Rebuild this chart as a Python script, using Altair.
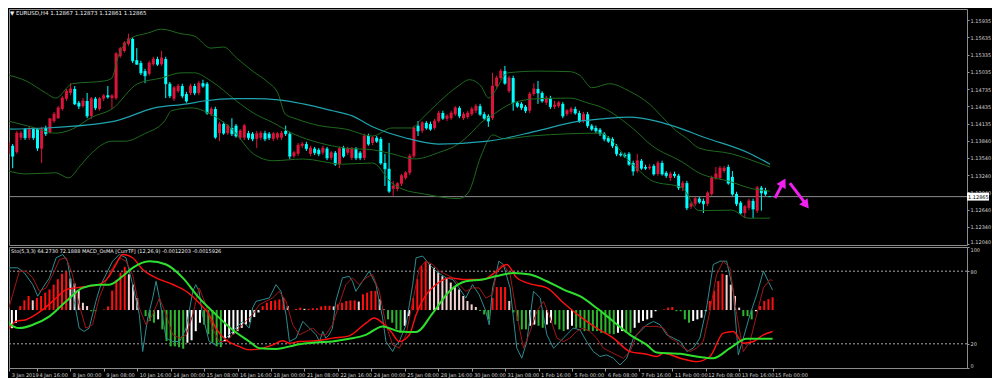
import altair as alt
import pandas as pd

# ---------------- text ----------------
TOP_TITLE = "▼ EURUSD,H4  1.12867 1.12873 1.12861 1.12865"
SUB_TITLE = "Sto(5,3,3) 64.2730 72.1888   MACD_OsMA [CurrTF] (12,26,9) -0.0012203 -0.0015926"
CURRENT_PRICE = 1.12865
PRICE_TAG = "1.12865"
PRICE_TICKS = [1.15935, 1.15635, 1.15335, 1.15035, 1.14735, 1.14435, 1.14135,
               1.13840, 1.13540, 1.13240, 1.12940, 1.12640, 1.12340, 1.12040]
STO_TICKS = [0, 20, 80, 100]
STO_LEVELS = [80, 20]
FIRST_LABEL = "3 Jan 2019"
TIME_LABELS = ["4 Jan 16:00", "8 Jan 00:00", "9 Jan 08:00", "10 Jan 16:00", "14 Jan 00:00",
               "15 Jan 08:00", "16 Jan 16:00", "18 Jan 00:00", "21 Jan 08:00", "22 Jan 16:00",
               "24 Jan 00:00", "25 Jan 08:00", "28 Jan 16:00", "30 Jan 00:00", "31 Jan 08:00",
               "1 Feb 16:00", "5 Feb 00:00", "6 Feb 08:00", "7 Feb 16:00", "11 Feb 00:00",
               "12 Feb 08:00", "13 Feb 16:00", "15 Feb 00:00"]

# ---------------- H4 candles (bar 0 = 3 Jan 08:00) ----------------
OPEN = [
1.1361,1.1375,1.1364,1.1389,1.1404,1.1389,1.1404,1.1404,1.1370,1.1406,
1.1399,1.1418,1.1423,1.1439,1.1457,1.1467,1.1474,1.1450,1.1444,1.1453,
1.1427,1.1457,1.1439,1.1457,1.1463,1.1458,1.1458,1.1531,1.1540,1.1552,
1.1561,1.1524,1.1519,1.1505,1.1500,1.1517,1.1526,1.1517,1.1526,1.1483,
1.1457,1.1470,1.1479,1.1465,1.1467,1.1479,1.1467,1.1484,1.1483,1.1430,
1.1439,1.1397,1.1413,1.1397,1.1406,1.1410,1.1389,1.1389,1.1397,1.1396,
1.1387,1.1389,1.1397,1.1396,1.1387,1.1389,1.1389,1.1401,1.1396,1.1357,
1.1361,1.1375,1.1378,1.1361,1.1370,1.1368,1.1363,1.1370,1.1354,1.1363,
1.1343,1.1371,1.1363,1.1354,1.1370,1.1363,1.1354,1.1392,1.1380,1.1389,
1.1387,1.1345,1.1335,1.1300,1.1300,1.1309,1.1319,1.1328,1.1357,1.1410,
1.1401,1.1415,1.1413,1.1406,1.1418,1.1432,1.1422,1.1423,1.1430,1.1441,
1.1423,1.1425,1.1430,1.1436,1.1444,1.1430,1.1427,1.1423,1.1479,1.1493,
1.1505,1.1470,1.1493,1.1450,1.1448,1.1443,1.1436,1.1465,1.1474,1.1467,
1.1450,1.1458,1.1443,1.1444,1.1448,1.1430,1.1434,1.1439,1.1432,1.1418,
1.1430,1.1410,1.1406,1.1403,1.1396,1.1389,1.1387,1.1375,1.1361,1.1359,
1.1361,1.1345,1.1331,1.1349,1.1338,1.1336,1.1340,1.1326,1.1345,1.1328,
1.1319,1.1326,1.1323,1.1302,1.1310,1.1269,1.1274,1.1283,1.1279,1.1274,
1.1291,1.1319,1.1319,1.1331,1.1338,1.1321,1.1291,1.1276,1.1258,1.1267,
1.1279,1.1262,1.1302,1.1298,1.12867]
HIGH = [
1.1383,1.1378,1.1401,1.1401,1.1406,1.1408,1.1406,1.1406,1.1408,1.1410,
1.1423,1.1434,1.1444,1.1462,1.1474,1.1484,1.1479,1.1453,1.1458,1.1467,
1.1460,1.1460,1.1460,1.1465,1.1479,1.1465,1.1538,1.1547,1.1557,1.1570,
1.1564,1.1545,1.1523,1.1509,1.1523,1.1530,1.1530,1.1540,1.1530,1.1486,
1.1479,1.1483,1.1483,1.1469,1.1483,1.1483,1.1488,1.1490,1.1486,1.1443,
1.1443,1.1417,1.1417,1.1413,1.1423,1.1413,1.1404,1.1413,1.1401,1.1399,
1.1401,1.1401,1.1401,1.1399,1.1399,1.1399,1.1401,1.1410,1.1399,1.1366,
1.1380,1.1382,1.1382,1.1375,1.1373,1.1371,1.1375,1.1373,1.1366,1.1366,
1.1373,1.1375,1.1373,1.1373,1.1373,1.1366,1.1396,1.1396,1.1392,1.1392,
1.1390,1.1361,1.1380,1.1314,1.1312,1.1326,1.1331,1.1361,1.1410,1.1418,
1.1418,1.1418,1.1417,1.1422,1.1436,1.1436,1.1430,1.1436,1.1444,1.1444,
1.1434,1.1436,1.1443,1.1448,1.1448,1.1434,1.1430,1.1502,1.1497,1.1509,
1.1514,1.1497,1.1497,1.1453,1.1451,1.1446,1.1469,1.1484,1.1488,1.1470,
1.1462,1.1462,1.1453,1.1453,1.1451,1.1439,1.1443,1.1443,1.1436,1.1434,
1.1434,1.1413,1.1410,1.1406,1.1399,1.1392,1.1390,1.1378,1.1364,1.1363,
1.1364,1.1349,1.1361,1.1352,1.1342,1.1343,1.1343,1.1349,1.1349,1.1331,
1.1330,1.1330,1.1326,1.1314,1.1314,1.1277,1.1286,1.1286,1.1283,1.1296,
1.1323,1.1338,1.1340,1.1340,1.1342,1.1331,1.1295,1.1279,1.1272,1.1283,
1.1283,1.1305,1.1305,1.1302,1.12873]
LOW = [
1.1356,1.1336,1.1361,1.1385,1.1385,1.1385,1.1385,1.1366,1.1345,1.1392,
1.1396,1.1415,1.1422,1.1436,1.1453,1.1463,1.1446,1.1439,1.1441,1.1423,
1.1422,1.1437,1.1436,1.1453,1.1457,1.1439,1.1455,1.1528,1.1537,1.1549,
1.1519,1.1516,1.1498,1.1484,1.1497,1.1514,1.1514,1.1514,1.1458,1.1458,
1.1453,1.1467,1.1458,1.1450,1.1463,1.1463,1.1463,1.1476,1.1429,1.1427,
1.1387,1.1383,1.1394,1.1394,1.1392,1.1389,1.1385,1.1385,1.1385,1.1383,
1.1371,1.1385,1.1383,1.1385,1.1383,1.1385,1.1385,1.1392,1.1352,1.1354,
1.1357,1.1371,1.1366,1.1357,1.1359,1.1357,1.1359,1.1350,1.1350,1.1340,
1.1336,1.1354,1.1359,1.1350,1.1350,1.1350,1.1350,1.1375,1.1376,1.1380,
1.1342,1.1305,1.1293,1.1288,1.1296,1.1305,1.1316,1.1324,1.1354,1.1392,
1.1397,1.1403,1.1401,1.1403,1.1415,1.1420,1.1418,1.1420,1.1427,1.1423,
1.1420,1.1422,1.1427,1.1432,1.1427,1.1420,1.1408,1.1420,1.1476,1.1490,
1.1481,1.1467,1.1436,1.1441,1.1437,1.1432,1.1432,1.1462,1.1448,1.1450,
1.1446,1.1439,1.1439,1.1441,1.1423,1.1427,1.1430,1.1429,1.1415,1.1415,
1.1406,1.1401,1.1397,1.1392,1.1383,1.1380,1.1371,1.1357,1.1356,1.1354,
1.1340,1.1323,1.1328,1.1333,1.1333,1.1333,1.1323,1.1323,1.1323,1.1319,
1.1314,1.1319,1.1298,1.1296,1.1263,1.1265,1.1270,1.1274,1.1258,1.1270,
1.1288,1.1316,1.1316,1.1328,1.1307,1.1288,1.1270,1.1255,1.1249,1.1263,
1.1249,1.1258,1.1262,1.1288,1.12861]
CLOSE = [
1.1380,1.1357,1.1397,1.1397,1.1389,1.1404,1.1389,1.1371,1.1404,1.1396,
1.1422,1.1430,1.1441,1.1458,1.1470,1.1474,1.1448,1.1444,1.1453,1.1427,
1.1457,1.1441,1.1457,1.1462,1.1460,1.1462,1.1535,1.1544,1.1554,1.1561,
1.1523,1.1517,1.1502,1.1497,1.1519,1.1526,1.1517,1.1528,1.1483,1.1462,
1.1476,1.1479,1.1462,1.1453,1.1479,1.1467,1.1484,1.1479,1.1432,1.1439,
1.1390,1.1413,1.1397,1.1410,1.1396,1.1392,1.1401,1.1410,1.1389,1.1387,
1.1396,1.1397,1.1387,1.1389,1.1396,1.1396,1.1397,1.1396,1.1357,1.1363,
1.1376,1.1378,1.1370,1.1371,1.1363,1.1361,1.1371,1.1354,1.1363,1.1343,
1.1370,1.1357,1.1370,1.1370,1.1354,1.1354,1.1392,1.1378,1.1389,1.1383,
1.1345,1.1335,1.1296,1.1305,1.1309,1.1323,1.1328,1.1357,1.1406,1.1401,
1.1415,1.1406,1.1404,1.1418,1.1432,1.1423,1.1427,1.1432,1.1441,1.1427,
1.1430,1.1432,1.1439,1.1444,1.1430,1.1423,1.1418,1.1479,1.1493,1.1505,
1.1484,1.1493,1.1450,1.1444,1.1441,1.1436,1.1465,1.1474,1.1467,1.1453,
1.1458,1.1443,1.1446,1.1450,1.1427,1.1436,1.1439,1.1432,1.1418,1.1430,
1.1410,1.1404,1.1401,1.1396,1.1387,1.1383,1.1375,1.1361,1.1359,1.1357,
1.1343,1.1331,1.1349,1.1336,1.1336,1.1338,1.1326,1.1345,1.1326,1.1323,
1.1326,1.1323,1.1302,1.1310,1.1267,1.1274,1.1283,1.1277,1.1274,1.1293,
1.1319,1.1326,1.1336,1.1336,1.1310,1.1291,1.1274,1.1258,1.1269,1.1279,
1.1265,1.1302,1.1293,1.1291,1.12865]

# ---------------- price-window indicators: (bar, price) ----------------
BB_UPPER = [(0,1.1498),(4.2,1.1488),(9.0,1.1467),(11.4,1.1458),(15.4,1.1483),(23.3,1.1488),
            (25.0,1.1493),(26.4,1.1528),(29.8,1.1563),(33.6,1.1571),(37.0,1.1578),(41.7,1.1570),
            (44.9,1.1566),(48.9,1.1545),(52.0,1.1547),(55.1,1.1528),(59.2,1.1504),(62.3,1.1488),
            (65.2,1.1465),(66.9,1.1430),(69.5,1.1422),(75.2,1.1410),(81.5,1.1404),(88.0,1.1392),
            (92.7,1.1406),(97.5,1.1406),(99.9,1.1422),(103.9,1.1450),(108.7,1.1479),(111.4,1.1490),
            (114.2,1.1479),(116.1,1.1458),(117.3,1.1467),(120.7,1.1502),(127.9,1.1505),(135.8,1.1504),
            (138.2,1.1497),(141.0,1.1476),(145.3,1.1483),(150.1,1.1470),(154.9,1.1448),(159.0,1.1418),
            (161.4,1.1401),(163.8,1.1389),(166.9,1.1371),(174.8,1.1361),(178.8,1.1352),(184.1,1.1338)]
BB_MID = [(0,1.1418),(5.4,1.1408),(11.4,1.1397),(15.4,1.1404),(20.2,1.1425),(25.0,1.1439),
          (31.2,1.1483),(37.0,1.1493),(41.7,1.1502),(44.9,1.1502),(48.9,1.1488),(55.1,1.1453),
          (59.2,1.1432),(64.0,1.1415),(68.8,1.1396),(75.2,1.1380),(81.5,1.1371),(88.0,1.1368),
          (92.7,1.1361),(98.2,1.1352),(103.9,1.1363),(108.7,1.1378),(111.8,1.1397),(114.2,1.1415),
          (117.3,1.1430),(121.4,1.1448),(127.9,1.1457),(135.8,1.1458),(139.8,1.1450),(143.7,1.1441),
          (150.8,1.1406),(155.6,1.1375),(162.8,1.1347),(166.9,1.1328),(174.8,1.1312),(178.8,1.1302),
          (184.1,1.1296)]
BB_LOWER = [(0,1.1331),(4.2,1.1326),(11.4,1.1328),(14.5,1.1319),(17.3,1.1340),(20.2,1.1363),
            (25.0,1.1383),(28.1,1.1383),(32.9,1.1396),(37.7,1.1418),(39.4,1.1436),(44.1,1.1441),
            (48.9,1.1430),(54.4,1.1401),(59.2,1.1361),(64.0,1.1349),(71.2,1.1352),(80.7,1.1343),
            (88.0,1.1345),(92.7,1.1310),(95.1,1.1300),(100.6,1.1291),(108.7,1.1283),(111.1,1.1293),
            (114.2,1.1357),(117.1,1.1394),(119.7,1.1387),(126.2,1.1392),(135.8,1.1396),(142.9,1.1397),
            (150.8,1.1343),(155.6,1.1314),(162.8,1.1302),(166.9,1.1262),(174.8,1.1263),(178.8,1.1249),
            (184.1,1.1249)]
MA_LINE = [(0,1.1404),(9.0,1.1406),(25.7,1.1418),(35.3,1.1441),(43.2,1.1448),(47.2,1.1453),
           (55.1,1.1457),(59.2,1.1457),(65.2,1.1455),(71.2,1.1448),(78.3,1.1436),(83.1,1.1427),
           (88.0,1.1408),(95.8,1.1389),(103.9,1.1378),(115.9,1.1383),(127.9,1.1401),(137.4,1.1417),
           (143.7,1.1422),(150.1,1.1425),(156.6,1.1418),(160.4,1.1410),(168.5,1.1389),(178.8,1.1363),
           (184.1,1.1343)]

# hand-drawn forecast arrows: start bar, start price, end bar, end price, head angle
ARROW_X0 = [185.3, 188.9]
ARROW_P0 = [1.1284, 1.1310]
ARROW_X1 = [187.2, 192.5]
ARROW_P1 = [1.1310, 1.1276]
HEAD_X = [187.3, 192.8]
HEAD_P = [1.1311, 1.1272]
HEAD_ANGLE = [29, 143]

# ---------------- sub-window: Stochastic(5,3,3) + MACD OsMA ----------------
STO_MAIN = [(0,46.8),(1.4,82.8),(3.4,82.8),(5,78.6),(7,68.9),(8.2,59.3),(9.4,66.2),(11,74.5),(12.6,91.1),
            (14.2,93.8),(15.3,88.3),(16.5,63.4),(18.1,33),(19.3,30.2),(20.5,33),(22.1,55.1),(23.3,68.9),
            (24.5,77.2),(26.1,88.3),(27.7,93.8),(29.3,91.1),(30.1,80),(30.9,68.9),(32.5,44.1),(33.3,13.6),
            (34.5,41.3),(35.7,57.9),(36.5,71.7),(37.3,57.9),(38.1,41.3),(38.9,24.7),(40.5,21.9),(42.1,21.9),
            (43.7,33),(45.3,63.4),(46,68.9),(46.8,63.4),(47.6,44.1),(49.2,21.9),(50.8,19.1),(52.4,21.9),
            (54,27.4),(55.6,33),(57.2,38.5),(58.8,33),(59.6,49.6),(60.4,55.1),(62,56.5),(63.6,57.9),
            (65.2,68.9),(66.4,63.4),(67.6,44.1),(68.4,21.9),(70,24.7),(71.6,38.5),(73.2,33),(74.8,27.4),
            (75.6,21.9),(76.4,30.2),(77.1,24.7),(77.9,27.4),(78.7,33),(79.5,55.1),(81.1,74.5),(82.7,75.8),
            (83.5,71.7),(84.3,63.4),(85.9,71.7),(87.5,80),(89.1,68.9),(90.7,41.3),(91.5,21.9),(93.1,13.6),
            (93.9,19.1),(94.7,21.9),(96.3,35.7),(97.9,68.9),(98.7,91.1),(100.3,92.5),(101.9,85.5),(103.5,80),
            (105.9,74.5),(107.5,73.1),(109,66.2),(110.6,57.9),(112.2,68.9),(113.8,60.6),(115.4,46.8),
            (116.2,35.7),(117,66.2),(117.8,77),(118.5,88.3),(119.6,85.5),(121.2,66.2),(122.8,16.4),(124,8.1),
            (125.2,21.9),(126.8,63.4),(128.4,57.9),(130,27.4),(131.6,16.4),(133.2,21.9),(134.7,27.4),
            (136.3,33),(137.9,31.6),(139.5,21.9),(141.1,13.6),(142.7,9.5),(144.3,10.8),(145.9,8.1),
            (147.5,2.5),(149.1,8.1),(150.7,24.7),(152.3,30.2),(153.9,35.7),(155.5,38.5),(157.1,35.7),
            (158.7,27.4),(160.3,24.7),(161.9,21.9),(163.5,13.6),(165,16.4),(166.6,24.7),(168.2,49.6),
            (169.8,85.5),(171.4,88.3),(173,88.3),(174.6,63.4),(175.8,10.8),(177,24.7),(178.6,44.1),
            (180.2,60.6),(181.8,80),(184,64.3)]
STO_SIGNAL = [(0,49.6),(0.6,41.3),(2.2,60.6),(3.8,80),(5.4,80),(7,74.5),(8.6,63.4),(10.2,66.2),(11.8,77.2),
              (13.4,89.7),(15,91.1),(16.5,77.2),(18.1,52.3),(19.7,33),(21.3,35.7),(22.9,57.9),(24.5,71.7),
              (26.1,82.8),(27.7,91.1),(29.3,88.3),(30.9,77.2),(32.5,49.6),(34.1,35.7),(35.7,44.1),(37.3,57.9),
              (38.9,44.1),(40.5,27.4),(42.1,24.7),(43.7,27.4),(45.3,44.1),(46.8,66.2),(48.4,52.3),(50,33),
              (51.6,21.9),(53.2,21.9),(54.8,27.4),(56.4,33),(58,38.5),(59.6,44.1),(61.2,52.3),(62.8,55.1),
              (64.4,57.9),(66,63.4),(67.6,55.1),(69.2,35.7),(70.8,27.4),(72.4,30.2),(74,33),(75.6,27.4),
              (77.1,27.4),(78.7,35.7),(80.3,52.3),(81.9,68.9),(83.5,74.5),(85.1,68.9),(86.7,74.5),(88.3,77.2),
              (89.9,63.4),(91.5,35.7),(93.1,19.1),(94.7,16.4),(96.3,27.4),(97.9,55.1),(99.5,82.8),(101.1,88.3),
              (102.7,85.5),(104.3,80),(105.9,77.2),(107.5,74.5),(109,68.9),(110.6,63.4),(112.2,66.2),
              (113.8,66.2),(115.4,57.9),(117,60.6),(117.6,72),(118.4,82.8),(119.6,85.5),(121.2,77.2),
              (122.8,44.1),(124.4,16.4),(126,30.2),(127.6,46.8),(129.2,55.1),(130.8,41.3),(132.4,24.7),
              (134,21.9),(135.5,24.7),(137.1,30.2),(138.7,33),(140.3,30.2),(141.9,24.7),(143.5,16.4),
              (145.1,13.6),(146.7,10.8),(148.3,8.1),(149.9,13.6),(151.5,27.4),(153.1,34.4),(154.7,34.4),
              (156.3,34.4),(157.9,33),(159.5,24.7),(161.1,21.9),(162.7,16.4),(164.3,13.6),(165.8,16.4),
              (167.4,21.9),(169,46.8),(170.6,77.2),(172.2,88.3),(173.8,82.8),(175.4,44.1),(177,13.6),
              (178.6,21.9),(180.2,44.1),(181.8,66.2),(183.4,73.1),(184,72.2)]
MACD_LINE = [(0,28.8),(0.6,30.2),(3,38.5),(5.4,39.9),(7,42.7),(9.4,48.2),(12.6,57.9),(15,64.8),(17.3,66.2),
             (20.5,67.6),(22.9,69),(25.3,75.9),(26.9,85.5),(28.5,93.8),(30.9,91.1),(33.3,81.4),(36.5,74.5),
             (40.5,69),(43.7,63.4),(46.8,53.7),(49.2,44.1),(50.8,33),(53.2,23.3),(56.4,17.8),(58.8,15),
             (61.2,15.8),(64.4,19.1),(66.8,22.5),(68.4,20.5),(70.8,21.9),(74.8,22.5),(78.7,24.7),(82.7,26.6),
             (86.7,37.1),(88.7,41.3),(90.7,37.1),(92.7,30.2),(94.7,21.9),(97.1,27.4),(98.7,44.1),(101.1,60.6),
             (103.5,69),(106.7,74.5),(110.6,73.1),(114.6,73.1),(118,80),(120.4,85.5),(122.8,74.5),(126,69.5),
             (130,66.2),(134,53.7),(137.9,42.7),(141.9,33),(145.9,24.7),(149.9,13.6),(153.9,11.4),(156.3,9.5),
             (157.9,12.2),(161.9,8.1),(165.8,5.3),(169,9.5),(172.2,28.8),(174.6,30.2),(177,20.5),(179.4,21.9),
             (181.8,27.4),(184,30.2)]
MACD_SIGNAL = [(0,46.8),(1.4,37.1),(3.8,33),(7,35.7),(11,42.7),(15,55.1),(18.9,66.2),(22.9,68.9),(25.3,68.9),
               (28.5,75.8),(30.9,82.8),(34.9,88.3),(38.9,85.5),(42.9,74.5),(46.8,57.9),(50.8,44.1),(54.8,31.6),
               (58.8,21.9),(61.2,16.4),(65.2,15.8),(70.8,19.7),(74.8,21.1),(78.7,21.9),(82.7,24.1),(86.7,27.4),
               (90.7,34.4),(94.7,30.2),(98.7,29.7),(102.7,45.4),(106.7,63.4),(110.6,71.7),(114.6,73.1),
               (118,76),(122,78.6),(126,77.2),(130,71.7),(134,64.8),(137.9,59.3),(141.9,49.6),(145.9,38.5),
               (149.9,27.4),(153.9,19.1),(156.3,12.8),(161.9,11.7),(165.8,9.5),(169.8,8.1),(173.8,16.4),
               (177.8,24.1),(184,24.1)]
# OsMA histogram, one value per bar (sub-window units, zero line at 47.9 of the 0-100 axis)
OSMA = [
-32,-27,-15,-10.5,3.3,8,11.6,8,10,11.6,
14.4,17,21,25.5,30,32,26,22,16,6,
3.3,-1,-1,0,0.5,3,16,25,31,35.7,
29.6,21,10,0,-5,-9,-10.5,-7.7,-16,-25.7,
-30,-30,-30.7,-32,-27,-25,-17.5,-10.5,-12,-20,
-27,-30,-30.7,-25.7,-23,-20,-17.4,-14.7,-12,-10,
-5.8,-2,3.3,6,7.5,8,8.8,10,3.3,0,
1,2,1,1,1.5,1.5,3,3.5,3.5,3,
4.7,6,7.5,8,8,7,13,14.4,15.8,15.8,
8.8,0.5,-7.7,-10.5,-16,-18.8,-13,-5,10,25.5,
36.5,40,38,35,31,28,26,22.7,20,17,
11.6,7.5,4.7,2.5,-0.8,-3.6,-7.7,10,19,19,
19,7.5,-2,-9,-16,-16,-13,-12,-13,-14.7,
-12,-10.5,-12,-16,-17.4,-16,-13,-14.7,-14.7,-17.4,
-17.4,-17.4,-17.4,-18.8,-18.8,-19.6,-20,-18.8,-17.4,-18.8,
-18.8,-14.7,-10.5,-9,-7.7,-6.4,-1,0,0.5,2,
2.5,-1,-1,-7.7,-10.5,-9,-7.7,-6.4,-1,7.5,
16,24,30,29,21,11.6,2,-5,-5,-7.7,
-1,3.3,7.5,9,10.5]
OSMA_ZERO = 47.9

# ---------------- build tables ----------------
N = len(CLOSE)
bars = list(range(N))
candles = pd.DataFrame({"bar": bars, "open": OPEN, "high": HIGH, "low": LOW, "close": CLOSE})
candles["dir"] = ["bull" if c > o else "bear" for o, c in zip(OPEN, CLOSE)]

def pairs(name, pts):
    return pd.DataFrame({"bar": [p[0] for p in pts], "v": [p[1] for p in pts], "s": name})

bands = pd.concat([pairs("upper", BB_UPPER), pairs("mid", BB_MID), pairs("lower", BB_LOWER)])
ma = pairs("ma", MA_LINE)
arrows = pd.DataFrame({"x0": ARROW_X0, "p0": ARROW_P0, "x1": ARROW_X1, "p1": ARROW_P1})
heads = pd.DataFrame({"x": HEAD_X, "p": HEAD_P, "a": HEAD_ANGLE})

hist_cls = []
prev = 0.0
for h in OSMA:
    if h >= 0:
        hist_cls.append("pos_rise" if h >= prev else "pos_fall")
    else:
        hist_cls.append("neg_fall" if h <= prev else "neg_rise")
    prev = h
hist = pd.DataFrame({"bar": bars, "h": OSMA, "c": hist_cls})

# ---------------- layout ----------------
W = 958
TOP_H = 236
BOT_H = 121
PX_PER_BAR = 4.18
XDOM = [1.32, 1.32 + W / PX_PER_BAR]
xs = alt.Scale(domain=XDOM, nice=False, zero=False)
ys = alt.Scale(domain=[1.12023, 1.16131], nice=False, zero=False)
ss = alt.Scale(domain=[0, 100], nice=False, zero=False)
hs = alt.Scale(domain=[-OSMA_ZERO, 100 - OSMA_ZERO], nice=False, zero=False)
FONT = "DejaVu Sans"
LBL = "#d2d2d2"

candle_colors = alt.Scale(domain=["bull", "bear"], range=["#DC143C", "#00FFFF"])
CC = alt.Color("dir:N", scale=candle_colors, legend=None)

price_axis = alt.Axis(orient="right", values=PRICE_TICKS, format=".5f", title=None,
                      labelFontSize=5, labelColor=LBL, labelFont=FONT, tickColor="#9a9a9a",
                      tickSize=2, labelPadding=1, labelFlush=True, domain=False, grid=False)

def Xt(f):
    return alt.X(f, type="quantitative", scale=xs, axis=None)

def Yp(f):
    return alt.Y(f, type="quantitative", scale=ys, axis=price_axis)

price_line = alt.Chart(pd.DataFrame({"p": [CURRENT_PRICE]})).mark_rule(
    color="#8c8c8c", strokeWidth=1).encode(y=Yp("p"))

wicks = alt.Chart(candles).mark_rule(strokeWidth=1, clip=True).encode(
    x=Xt("bar"), y=Yp("low"), y2="high:Q", color=CC)
bodies = alt.Chart(candles).mark_bar(size=3, clip=True).encode(
    x=Xt("bar"), y=Yp("open"), y2="close:Q", color=CC)
body_min = alt.Chart(candles).mark_tick(orient="horizontal", size=3, thickness=1, clip=True).encode(
    x=Xt("bar"), y=Yp("close"), color=CC)

band_lines = alt.Chart(bands).mark_line(color="#1F6A1F", strokeWidth=1, clip=True,
                                        interpolate="monotone").encode(
    x=Xt("bar"), y=Yp("v"), detail="s:N")
ma_line = alt.Chart(ma).mark_line(color="#1FA3AE", strokeWidth=1.2, clip=True,
                                  interpolate="monotone").encode(x=Xt("bar"), y=Yp("v"))

shafts = alt.Chart(arrows).mark_rule(color="#F020F0", strokeWidth=3).encode(
    x=Xt("x0"), x2="x1:Q", y=Yp("p0"), y2="p1:Q")
tips = alt.Chart(heads).mark_point(shape="triangle-up", filled=True, size=110, color="#F020F0",
                                   opacity=1).encode(
    x=Xt("x"), y=Yp("p"), angle=alt.Angle("a:Q", scale=None))

title_top = alt.Chart(pd.DataFrame({"t": [TOP_TITLE]})).mark_text(
    align="left", baseline="middle", fontSize=5.5, font=FONT, color="#f0f0f0").encode(
    text="t:N", x=alt.value(1), y=alt.value(4))

tag_box = alt.Chart(pd.DataFrame({"p": [CURRENT_PRICE]})).mark_point(
    shape="M-1,-0.36L1,-0.36L1,0.36L-1,0.36Z", filled=True, size=484, color="#ffffff",
    opacity=1).encode(y=Yp("p"), x=alt.value(W + 11))
tag_text = alt.Chart(pd.DataFrame({"p": [CURRENT_PRICE], "t": [PRICE_TAG]})).mark_text(
    align="left", baseline="middle", fontSize=5, font=FONT, color="#000000").encode(
    y=Yp("p"), x=alt.value(W + 1), text="t:N")

top = alt.layer(price_line, wicks, bodies, body_min, band_lines, ma_line, shafts, tips,
                title_top, tag_box, tag_text).properties(width=W, height=TOP_H)

# ---------------- sub window ----------------
x_ticks = [1.4] + [8 * (k + 1) for k in range(len(TIME_LABELS))]
label_expr = ("datum.value < 4 ? '" + FIRST_LABEL + "' : [" +
              ",".join("'" + s + "'" for s in TIME_LABELS) + "][round(datum.value / 8) - 1]")
time_axis = alt.Axis(values=x_ticks, labelExpr=label_expr, orient="bottom", title=None,
                     labelFontSize=5, labelFont=FONT, labelColor=LBL, labelAlign="left",
                     labelOffset=2, labelPadding=1, tickSize=3, tickColor="#9a9a9a",
                     domain=False, grid=False, labelOverlap=False, labelBound=False)
sto_axis = alt.Axis(orient="right", values=STO_TICKS, format="d", title=None, labelFontSize=5,
                    labelFont=FONT, labelColor=LBL, tickColor="#9a9a9a", tickSize=2,
                    labelPadding=1, labelFlush=True, domain=False, grid=False)

def Xb(f):
    return alt.X(f, type="quantitative", scale=xs, axis=time_axis)

hist_colors = alt.Scale(domain=["pos_rise", "pos_fall", "neg_fall", "neg_rise"],
                        range=["#FF1010", "#F4D2D2", "#2FB52F", "#FFFFFF"])
osma_bars = alt.Chart(hist).mark_rule(strokeWidth=2, clip=True).encode(
    x=Xb("bar"), y=alt.Y("h:Q", scale=hs, axis=None), y2=alt.datum(0),
    color=alt.Color("c:N", scale=hist_colors, legend=None))
levels = alt.Chart(pd.DataFrame({"lv": STO_LEVELS})).mark_rule(
    color="#a8a8a8", strokeWidth=1, strokeDash=[2, 2]).encode(
    y=alt.Y("lv:Q", scale=ss, axis=sto_axis))

def sub_line(pts, color, width, interp="linear"):
    return alt.Chart(pairs("l", pts)).mark_line(color=color, strokeWidth=width, clip=True,
                                               interpolate=interp).encode(
        x=Xb("bar"), y=alt.Y("v:Q", scale=ss, axis=None))

sto_main = sub_line(STO_MAIN, "#2E8B8F", 1)
sto_sig = sub_line(STO_SIGNAL, "#A01818", 1)
macd_l = sub_line(MACD_LINE, "#FF1010", 1.4, "monotone")
macd_s = sub_line(MACD_SIGNAL, "#2EE02E", 2, "monotone")
title_sub = alt.Chart(pd.DataFrame({"t": [SUB_TITLE]})).mark_text(
    align="left", baseline="middle", fontSize=5, font=FONT, color="#f0f0f0").encode(
    text="t:N", x=alt.value(2), y=alt.value(4))

bottom = alt.layer(levels, osma_bars, sto_main, sto_sig, macd_l, macd_s, title_sub).resolve_scale(
    y="independent").properties(width=W, height=BOT_H)

chart = alt.vconcat(top, bottom, spacing=2, bounds="flush").resolve_scale(
    color="independent").properties(padding=0).configure(
    background="#000000").configure_view(stroke="#8c8c8c", strokeWidth=1)

chart.save("out.html", embed_options={"renderer": "svg", "actions": False})
